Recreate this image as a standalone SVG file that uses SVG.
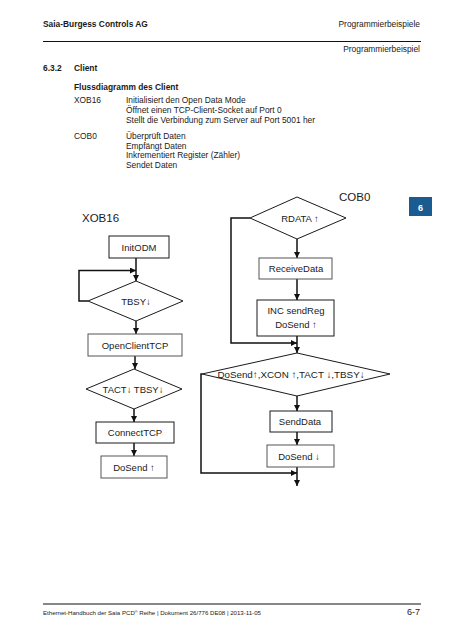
<svg xmlns="http://www.w3.org/2000/svg" width="453" height="640" viewBox="0 0 453 640">
<style>
text{font-family:"Liberation Sans",Arial,sans-serif;fill:#1a1a1a}
.b{font-weight:bold}
.h{font-size:8.4px}
.d{font-size:9.5px;text-anchor:middle}
.big{font-size:11.5px}
.box{fill:#fff;stroke:#1a1a1a;stroke-width:1}
.gb{fill:#fff;stroke:#555;stroke-width:1}
.c{fill:none;stroke:#111;stroke-width:1.5}
.r{text-anchor:end}
</style>
<defs>
<marker id="ah" viewBox="0 0 6 6" refX="6" refY="3" markerWidth="6" markerHeight="6" markerUnits="userSpaceOnUse" orient="auto">
<path d="M0,0 L6,3 L0,6 z" fill="#111"/>
</marker>
</defs>
<rect width="453" height="640" fill="#fff"/>
<g id="header">
<text x="43" y="26.5" class="h b">Saia-Burgess Controls AG</text>
<text x="420" y="26.5" class="h r">Programmierbeispiele</text>
<line x1="43" y1="41.5" x2="421" y2="41.5" stroke="#111" stroke-width="1"/>
<text x="420" y="51.5" class="h r">Programmierbeispiel</text>
</g>
<g id="intro">
<text x="43" y="71" class="h b">6.3.2</text>
<text x="74" y="71" class="h b">Client</text>
<text x="74" y="90" class="h b">Flussdiagramm des Client</text>
<text x="74" y="103" class="h">XOB16</text>
<text x="126" y="103" class="h">Initialisiert den Open Data Mode</text>
<text x="126" y="113" class="h">Öffnet einen TCP-Client-Socket auf Port 0</text>
<text x="126" y="123" class="h">Stellt die Verbindung zum Server auf Port 5001 her</text>
<text x="74" y="139" class="h">COB0</text>
<text x="126" y="139" class="h">Überprüft Daten</text>
<text x="126" y="148.5" class="h">Empfängt Daten</text>
<text x="126" y="158" class="h">Inkrementiert Register (Zähler)</text>
<text x="126" y="167.5" class="h">Sendet Daten</text>
</g>
<g id="tab">
<rect x="409" y="197" width="23" height="19" fill="#1a5b91"/>
<text x="420.5" y="210.5" font-size="9" class="b" text-anchor="middle" style="fill:#fff">6</text>
</g>
<g id="connectors">
<path class="c" d="M136,258 V281" marker-end="url(#ah)"/>
<path class="c" d="M88,301 H79 V270.5 H136" marker-end="url(#ah)"/>
<path class="c" d="M136,321 V334" marker-end="url(#ah)"/>
<path class="c" d="M135,356 V369" marker-end="url(#ah)"/>
<path class="c" d="M134,409 V422" marker-end="url(#ah)"/>
<path class="c" d="M134,443 V456" marker-end="url(#ah)"/>
<path class="c" d="M297,239 V258" marker-end="url(#ah)"/>
<path class="c" d="M297,279 V300" marker-end="url(#ah)"/>
<path class="c" d="M297,336 V353" marker-end="url(#ah)"/>
<path class="c" d="M250,218 H231 V343 H297" marker-end="url(#ah)"/>
<path class="c" d="M297,396 V411" marker-end="url(#ah)"/>
<path class="c" d="M297,432 V445" marker-end="url(#ah)"/>
<path class="c" d="M297,467 V486" marker-end="url(#ah)"/>
<path class="c" d="M202,374 H201 V473 H297" marker-end="url(#ah)"/>
</g>
<g id="xob16-label"><text x="82" y="222" class="big">XOB16</text></g>
<g id="initodm">
<rect x="109" y="236" width="60" height="22" class="box"/>
<text x="139" y="251" class="d">InitODM</text>
</g>
<g id="tbsy">
<path d="M136,281 L183,301 L136,321 L88,301 Z" class="box"/>
<text x="136" y="304.5" class="d">TBSY↓</text>
</g>
<g id="openclienttcp">
<rect x="88" y="334" width="94" height="22" class="gb"/>
<text x="135" y="348.5" class="d">OpenClientTCP</text>
</g>
<g id="tact">
<path d="M134,369 L182,389 L134,409 L86,389 Z" class="box"/>
<text x="133" y="393" class="d">TACT↓ TBSY↓</text>
</g>
<g id="connecttcp">
<rect x="96" y="422" width="78" height="21" class="box"/>
<text x="135" y="436" class="d">ConnectTCP</text>
</g>
<g id="dosend-up">
<rect x="101" y="456" width="66" height="22" class="gb"/>
<text x="134" y="471" class="d">DoSend ↑</text>
</g>
<g id="cob0-label"><text x="339" y="201" class="big">COB0</text></g>
<g id="rdata">
<path d="M297,197 L346,218 L297,239 L250,218 Z" class="box"/>
<text x="300" y="221.5" class="d">RDATA ↑</text>
</g>
<g id="receivedata">
<rect x="259" y="258" width="73" height="21" class="gb"/>
<text x="296" y="272" class="d">ReceiveData</text>
</g>
<g id="incsendreg">
<rect x="257" y="300" width="77" height="36" class="box"/>
<text x="296" y="313.5" class="d">INC sendReg</text>
<text x="296" y="328" class="d">DoSend ↑</text>
</g>
<g id="dosend-cond">
<path d="M297,353 L390,374 L297,396 L202,374 Z" class="box"/>
<text x="291" y="377.5" class="d" style="font-size:9.8px">DoSend↑,XCON ↑,TACT ↓,TBSY↓</text>
</g>
<g id="senddata">
<rect x="270" y="411" width="62" height="21" class="box"/>
<text x="300" y="425" class="d">SendData</text>
</g>
<g id="dosend-down">
<rect x="267" y="445" width="67" height="22" class="gb"/>
<text x="299" y="460" class="d">DoSend ↓</text>
</g>
<g id="footer">
<line x1="43" y1="604" x2="421" y2="604" stroke="#111" stroke-width="1.2"/>
<text x="43" y="614.5" font-size="6.1">Ethernet-Handbuch der Saia PCD<tspan font-size="3.8" dy="-2">®</tspan><tspan dy="2"> Reihe | Dokument 26/776 DE08 | 2013-11-05</tspan></text>
<text x="420" y="615" font-size="9" class="r">6-7</text>
</g>
</svg>
